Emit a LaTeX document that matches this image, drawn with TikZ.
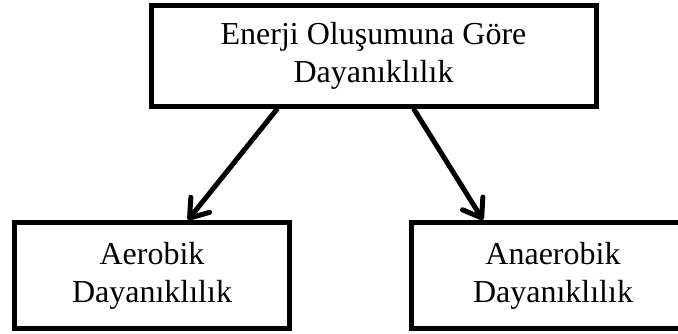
\documentclass[tikz,border=0pt]{standalone}
\usepackage{fontspec}
\setmainfont{Liberation Serif}
\usetikzlibrary{arrows.meta}

\begin{document}
\begin{tikzpicture}[x=1pt, y=-1pt,
    box/.style={draw, line width=5pt, align=center, inner sep=0pt,
                font=\fontsize{32}{38}\selectfont},
    link/.style={line width=5pt, -{Straight Barb[length=17pt, width=24pt, line join=round, line cap=round]}}]
    \useasboundingbox (0,0) rectangle (678,333);
    \node[box, minimum width=445pt, minimum height=101pt] (enerji) at (373.5,55.5) {Enerji Oluşumuna Göre\\Dayanıklılık};
    \node[box, minimum width=275pt, minimum height=106pt] (aerobik) at (152,275.5) {Aerobik\\Dayanıklılık};
    \node[box, minimum width=284pt, minimum height=106pt] (anaerobik) at (553,275.5) {Anaerobik\\Dayanıklılık};
        \path[link]
        ([xshift=-96pt]enerji.south) edge ([xshift=36pt]aerobik.north)
        ([xshift=40pt]enerji.south)  edge ([xshift=-70pt]anaerobik.north);
\end{tikzpicture}
\end{document}
